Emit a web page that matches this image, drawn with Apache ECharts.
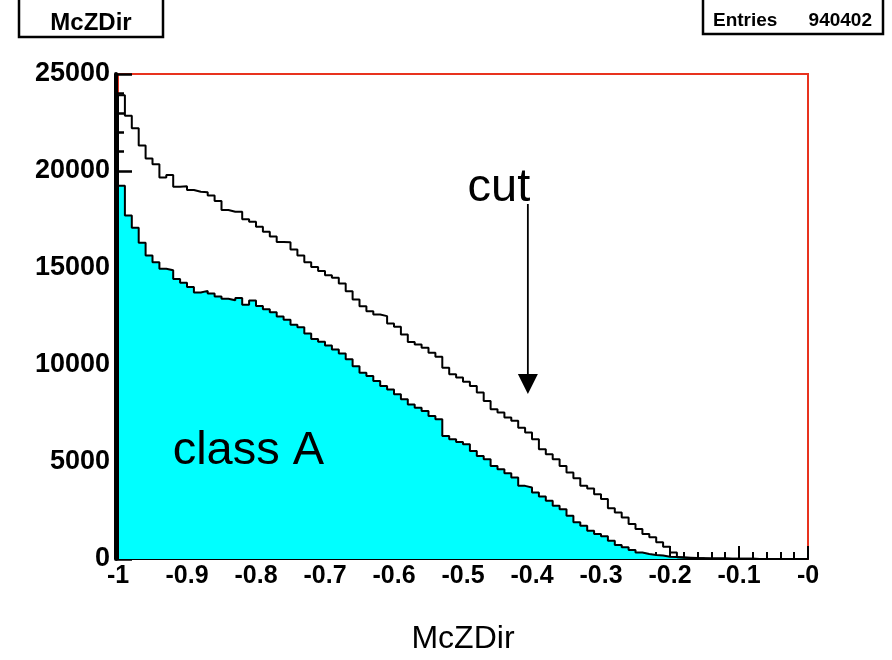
<!DOCTYPE html>
<html><head><meta charset="utf-8">
<script src="https://cdn.jsdelivr.net/npm/echarts@6/dist/echarts.min.js"></script>
<style>html,body{margin:0;padding:0;background:#fff}#c{width:892px;height:660px}</style>
</head><body><div id="c"></div>
<script>
// ---- data ----
const xMin = -1, xMax = 0, binWidth = 0.01;
const histTitle = 'McZDir';
const entries = '940402';
const axisTitle = 'McZDir';
const totalCounts = [
  23900,22850,22200,21320,20640,20350,19660,19790,19190,19220,
  19020,18930,18900,18740,18450,17990,17900,17900,17510,17390,
  17130,16870,16620,16340,16330,15950,15650,15300,15050,14840,
  14630,14500,14200,13800,13370,13030,12770,12600,12520,12140,
  11970,11570,11180,11060,10890,10630,10430,9860,9520,9350,
  9140,8920,8580,8140,7720,7550,7290,7120,6770,6520,
  6170,5660,5400,5140,4800,4460,4160,3770,3640,3340,
  3090,2610,2400,2140,1800,1540,1290,1120,860,630,
  340,90,70,50,40,30,25,20,15,10,
  10,8,6,5,4,3,2,2,1,1
];
const classACounts = [
  19240,17710,17080,16300,15650,15300,14960,14880,14430,14240,
  14020,13740,13820,13680,13530,13420,13340,13450,13110,13330,
  13040,12870,12715,12500,12330,12080,11950,11620,11340,11200,
  11010,10800,10590,10290,9940,9600,9430,9170,8920,8740,
  8490,8230,7970,7800,7630,7370,7200,6340,6170,6030,
  5920,5570,5310,5140,4800,4630,4420,4200,3770,3690,
  3430,3220,3000,2740,2570,2230,1890,1710,1460,1290,
  1170,940,720,600,460,340,260,210,180,120,
  100,70,55,45,35,30,25,20,15,12,
  10,8,6,4,3,2,1,0,0,0
];
const yMin = 0, yMax = 25000, yStep = 5000;
const xStep = 0.1;
const cutX = -0.406, cutArrowTop = 18300, cutArrowTip = 8500;
const cutLabel = 'cut', classLabel = 'class A';

// ---- build ----
function stepData(counts){
  const d = [[xMin, 0]];
  counts.forEach((c, i) => d.push([+(xMin + i * binWidth).toFixed(4), c]));
  d.push([xMax, counts[counts.length - 1]]);
  d.push([xMax, 0]);
  return d;
}
const FONT = "'Liberation Sans', Arial, Helvetica, sans-serif";
const chart = echarts.init(document.getElementById('c'), null, {renderer: 'canvas'});
const option = {
  animation: false,
  backgroundColor: '#fff',
  grid: {left: 118, right: 84, top: 74, bottom: 100, show: true, borderColor: '#e8321e', borderWidth: 2, backgroundColor: 'transparent'},
  xAxis: {
    type: 'value', min: xMin, max: xMax, interval: xStep,
    name: axisTitle, nameLocation: 'middle', nameGap: 64,
    nameTextStyle: {fontFamily: FONT, fontSize: 32, color: '#000'},
    axisLine: {show: true, onZero: false, lineStyle: {color: '#000', width: 2}},
    axisTick: {show: true, inside: true, length: 13, lineStyle: {color: '#000', width: 2}},
    minorTick: {show: true, splitNumber: 5, length: 7, lineStyle: {color: '#000', width: 2}},
    splitLine: {show: false},
    axisLabel: {
      margin: 5, color: '#000', fontFamily: FONT, fontWeight: 'bold', fontSize: 25,
      showMinLabel: true, showMaxLabel: true,
      formatter: v => { const r = Math.round(v * 10) / 10; return r === 0 ? '-0' : (r === -1 ? '-1' : r.toFixed(1)); }
    }
  },
  yAxis: {
    type: 'value', min: yMin, max: yMax, interval: yStep, offset: 2, position: 'left',
    axisLine: {show: true, onZero: false, lineStyle: {color: '#000', width: 4}},
    axisTick: {show: true, inside: true, length: 16, lineStyle: {color: '#000', width: 2.5}},
    minorTick: {show: true, splitNumber: 5, length: 8, lineStyle: {color: '#000', width: 2.5}},
    splitLine: {show: false},
    axisLabel: {margin: 6, color: '#000', fontFamily: FONT, fontWeight: 'bold', fontSize: 27,
      formatter: v => String(Math.round(v))}
  },
  series: [
    {
      type: 'line', step: 'end', showSymbol: false, data: stepData(classACounts),
      lineStyle: {color: '#000', width: 2}, areaStyle: {color: '#00ffff', opacity: 1}, z: 3
    },
    {
      type: 'line', step: 'end', showSymbol: false, data: stepData(totalCounts),
      lineStyle: {color: '#000', width: 2}, z: 4
    }
  ]
};
chart.setOption(option);

const px = (x, y) => chart.convertToPixel({gridIndex: 0}, [x, y]);
const aTop = px(cutX, cutArrowTop), aTip = px(cutX, cutArrowTip);
const head = 20;
const cutPos = px(-0.448, 19100), classPos = px(-0.811, 5570);
chart.setOption({
  graphic: [
    // title box
    {type: 'rect', shape: {x: 19, y: -10, width: 144, height: 47}, style: {fill: '#fff', stroke: '#000', lineWidth: 2.5}, z: 10},
    {type: 'text', x: 91, y: 23, style: {text: histTitle, fill: '#000', font: `bold 24px ${FONT}`, align: 'center', verticalAlign: 'middle'}, z: 11},
    // stats box
    {type: 'rect', shape: {x: 703, y: -10, width: 180, height: 44}, style: {fill: '#fff', stroke: '#000', lineWidth: 2.5}, z: 10},
    {type: 'text', x: 713, y: 21, style: {text: 'Entries', fill: '#000', font: `bold 19px ${FONT}`, align: 'left', verticalAlign: 'middle'}, z: 11},
    {type: 'text', x: 872, y: 21, style: {text: entries, fill: '#000', font: `bold 19px ${FONT}`, align: 'right', verticalAlign: 'middle'}, z: 11},
    // cut arrow
    {type: 'line', shape: {x1: aTop[0], y1: aTop[1], x2: aTip[0], y2: aTip[1] - head + 2}, style: {stroke: '#000', lineWidth: 1.8}, z: 10},
    {type: 'polygon', shape: {points: [[aTip[0] - head / 2, aTip[1] - head], [aTip[0] + head / 2, aTip[1] - head], [aTip[0], aTip[1]]]}, style: {fill: '#000'}, z: 10},
    {type: 'text', x: cutPos[0], y: cutPos[1], style: {text: cutLabel, fill: '#000', font: `47px ${FONT}`, align: 'center', verticalAlign: 'middle'}, z: 11},
    {type: 'text', x: classPos[0], y: classPos[1], style: {text: classLabel, fill: '#000', font: `47px ${FONT}`, align: 'center', verticalAlign: 'middle'}, z: 11}
  ]
});
</script>
</body></html>
